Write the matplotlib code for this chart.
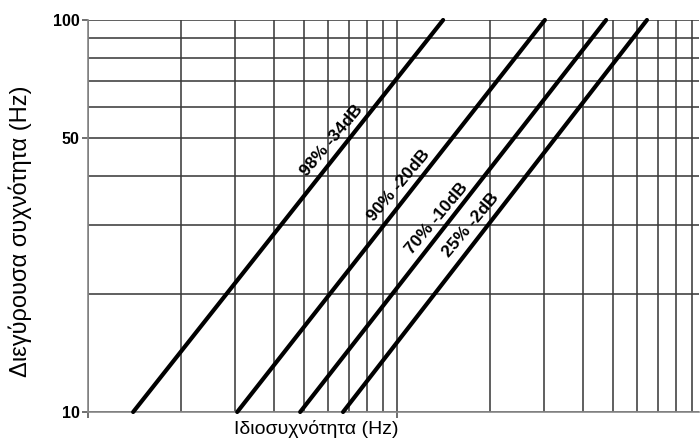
import numpy as np
import matplotlib
matplotlib.use("Agg")
import matplotlib.pyplot as plt
from matplotlib.ticker import FixedLocator, NullFormatter

plt.rcParams['font.family'] = ['Liberation Sans', 'DejaVu Sans']

# Data: each curve given by its two end points (natural frequency, exciting frequency)
labels = ["98% -34dB", "90% -20dB", "70% -10dB", "25% -2dB"]
x_start = [1.40, 3.04, 4.86, 6.69]
x_end = [14.1, 30.1, 47.5, 64.4]
y_start = [10, 10, 10, 10]
y_end = [100, 100, 100, 100]
# label centre positions (data coords)
label_x = [6.16, 10.15, 13.47, 17.36]
label_y = [49.4, 37.9, 31.2, 30.0]

y_ticks = [10, 50, 100]
y_tick_labels = ["10", "50", "100"]
x_grid = [1, 2, 3, 4, 5, 6, 7, 8, 9, 10, 20, 30, 40, 50, 60, 70, 80, 90]
y_grid = [10, 20, 30, 40, 50, 60, 70, 80, 90, 100]

W, H = 700, 443
fig = plt.figure(figsize=(W / 100, H / 100), dpi=100)
ax = fig.add_axes([88 / W, (H - 412) / H, (699 - 88) / W, (412 - 20) / H])
ax.set_xscale('log')
ax.set_yscale('log')
ax.set_xlim(1, 10 ** ((699 - 88) / 309))
ax.set_ylim(10, 100)

ax.xaxis.set_major_locator(FixedLocator([1, 10]))
ax.xaxis.set_major_formatter(NullFormatter())
ax.xaxis.set_minor_locator(FixedLocator(x_grid))
ax.xaxis.set_minor_formatter(NullFormatter())
ax.yaxis.set_major_locator(FixedLocator(y_ticks))
ax.set_yticklabels(y_tick_labels, fontweight='bold', fontsize=11.5)
ax.yaxis.set_minor_locator(FixedLocator(y_grid))
ax.yaxis.set_minor_formatter(NullFormatter())
ax.tick_params(which='major', length=4, width=1.2, color='#555555', pad=2)
ax.tick_params(which='minor', length=0)
ax.grid(True, which='both', color='#3c3c3c', linewidth=1.15)
ax.set_axisbelow(True)
for s in ['top', 'right']:
    ax.spines[s].set_visible(False)
for s in ['left', 'bottom']:
    ax.spines[s].set_color('#888888')
    ax.spines[s].set_linewidth(1.2)

for xs, xe, ys, ye in zip(x_start, x_end, y_start, y_end):
    ax.plot([xs, xe], [ys, ye], color='black', linewidth=3.0,
            solid_capstyle='round', clip_on=False, zorder=3)

for lab, lx, ly in zip(labels, label_x, label_y):
    ax.text(lx, ly, lab, rotation=50, fontsize=12.5, fontweight='bold',
            ha='center', va='center', rotation_mode='anchor', zorder=4)

fig.text(20 / W, 1 - 231 / H, "Διεγύρουσα συχνότητα (Hz)", rotation=90,
         ha='center', va='center', fontsize=17)
fig.text(316 / W, 1 - 429 / H, "Ιδιοσυχνότητα (Hz)",
         ha='center', va='center', fontsize=14)

fig.savefig("out.png", dpi=100)
